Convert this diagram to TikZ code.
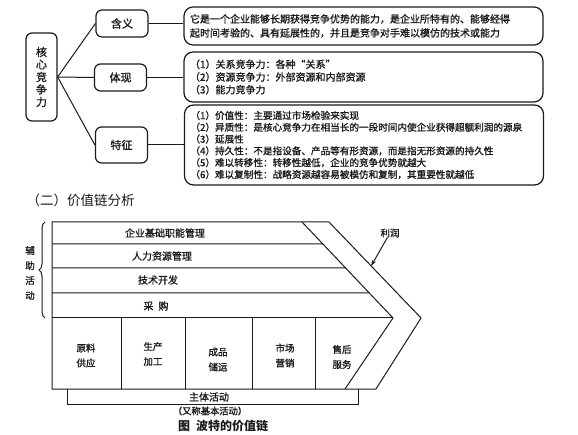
\documentclass[tikz,border=0pt]{standalone}
\usepackage{fontspec}
\setmainfont{Noto Sans CJK SC}
\newfontfamily\heavy{Noto Sans CJK SC}[FakeBold=1.2]
\usetikzlibrary{arrows.meta,calc,decorations.pathreplacing}
\definecolor{ink}{HTML}{1A1A1A}

\begin{document}
\begin{tikzpicture}[x=1pt,y=-1pt,line width=1pt,color=ink,
  every node/.style={font=\heavy\fontsize{10}{12}\selectfont,text=ink,inner sep=0pt},
  tag/.style={draw=ink,rounded corners=6pt,line width=1.2pt,minimum width=52,minimum height=27,font=\heavy\fontsize{11}{13}\selectfont},
  note/.style={draw=ink,rounded corners=9pt,line width=1.2pt,inner xsep=6pt,text width=347,align=left,minimum width=359}]
\useasboundingbox (0,0) rectangle (578,435);
% core competence
\node[tag,minimum width=31,minimum height=88,align=center,font=\heavy\fontsize{11}{12.5}\selectfont] (core) at (41.5,77) {核\\心\\竞\\争\\力};
\node[tag] (mean) at (122,23.5) {含义};
\node[tag] (form) at (120.5,77.5) {体现};
\node[tag,minimum height=36] (trait) at (121.5,145) {特征};
\node[note,minimum height=38,font=\heavy\fontsize{10}{14}\selectfont] (meantxt) at (363.5,26) {它是一个企业能够长期获得竞争优势的能力，是企业所特有的、能够经得\\起时间考验的、具有延展性的，并且是竞争对手难以模仿的技术或能力};
\node[note,minimum height=50,font=\heavy\fontsize{10}{12.7}\selectfont] (formtxt) at (363.5,77) {（1）关系竞争力：各种“关系”\\（2）资源竞争力：外部资源和内部资源\\（3）能力竞争力};
\node[note,minimum height=80,font=\heavy\fontsize{9.6}{11.8}\selectfont] (traittxt) at (364,145) {（1）价值性：主要通过市场检验来实现\\（2）异质性：是核心竞争力在相当长的一段时间内使企业获得超额利润的源泉\\（3）延展性\\（4）持久性：不是指设备、产品等有形资源，而是指无形资源的持久性\\（5）难以转移性：转移性越低，企业的竞争优势就越大\\（6）难以复制性：战略资源越容易被模仿和复制，其重要性就越低};
\foreach \t in {mean,form,trait} \draw (core.east) -- (\t.west);
\foreach \t/\n in {mean/meantxt,form/formtxt,trait/traittxt} \draw (\t.east) -- (\t.east -| \n.west);
% value chain
\node[anchor=west,font=\normalfont\fontsize{13.5}{15}\selectfont] (head) at (26,200) {（二）价值链分析};
\coordinate (in1) at (302,222); \coordinate (in2) at (393,318); \coordinate (in3) at (345,389);
\coordinate (out1) at (329,222); \coordinate (out2) at (421,318); \coordinate (out3) at (376,389);
\draw (out1) -- (52,222) -- (52,389) -- (out3) -- (out2) -- cycle;
\draw (in1) -- (in2) -- (in3);
\draw (52,318) -- (in2);
\foreach \y in {244,268,293} \draw (52,\y) -- ($(in1)!{(\y-222)/96}!(in2)$);
\foreach \x in {121,185,252,315} \draw (\x,318) -- (\x,389);
\node (infra) at (165,233) {企业基础职能管理};
\node (hr) at (162,256) {人力资源管理};
\node (tech) at (158,280) {技术开发};
\node (buy) at (156,306) {采\hspace{5pt}购};
\node[align=center,font=\heavy\fontsize{9.5}{15}\selectfont] (aux) at (30,273) {辅\\助\\活\\动};
\draw[decorate,decoration={brace,amplitude=6pt}] (45,318) -- (45,222);
\foreach \x/\y/\a/\b/\n in {86/355.5/原料/供应/supply,153/354/生产/加工/make,218/359.5/成品/储运/store,285/355.5/市场/营销/market,342/357/售后/服务/service}
  \node[align=center,font=\heavy\fontsize{9.5}{15}\selectfont] (\n) at (\x,\y) {\a\\\b};
\draw (67,389) -- (67,404) -- (358,404) -- (358,389);
\node (main) at (209,397) {主体活动};
\node[fill=white,inner sep=2pt,font=\heavy\fontsize{9.3}{11}\selectfont] (alias) at (210,411) {（又称基本活动）};
\node[font=\normalfont\bfseries\fontsize{12}{14}\selectfont] (cap) at (223,426) {图\hspace{6pt}波特的价值链};
\node[font=\heavy\fontsize{9.5}{11}\selectfont] (profit) at (390,233) {利润};
\coordinate (pin) at ($(out1)!.458!(out2)$);
\draw[-{Stealth[length=6pt,width=4pt]}] (profit) -- (pin);
\end{tikzpicture}
\end{document}
